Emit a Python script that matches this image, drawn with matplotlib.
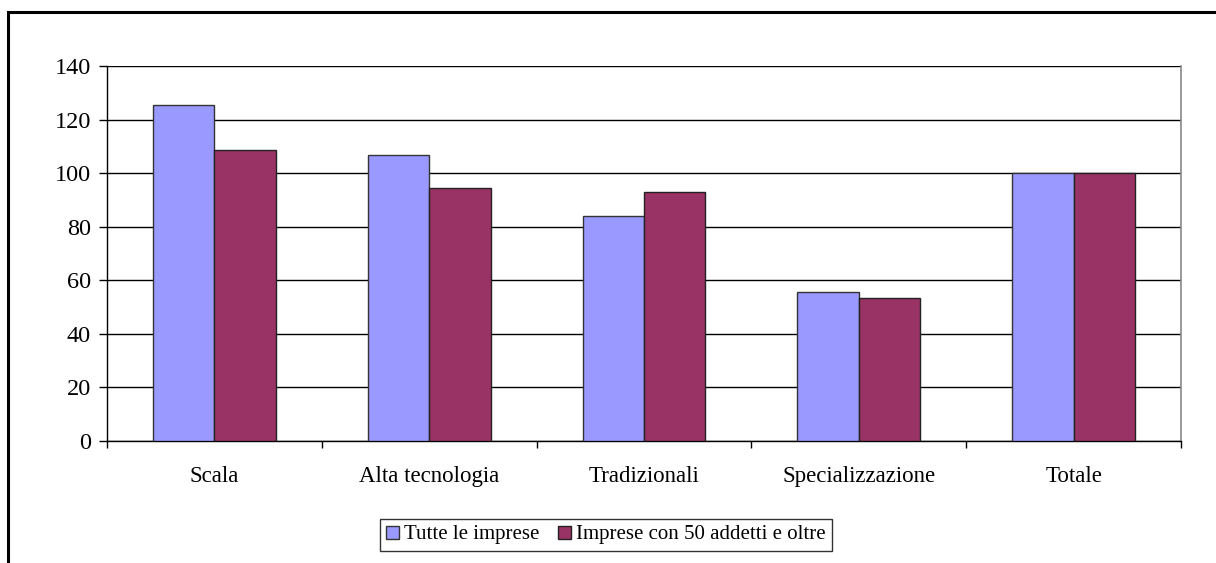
import matplotlib
matplotlib.use("Agg")
import matplotlib.pyplot as plt
import numpy as np
from matplotlib.patches import Rectangle, Patch

categories = ["Scala", "Alta tecnologia", "Tradizionali", "Specializzazione", "Totale"]
tutte = [125.5, 106.9, 84.0, 55.5, 100.0]
imprese50 = [108.6, 94.4, 93.1, 53.4, 100.0]
series_names = ["Tutte le imprese", "Imprese con 50 addetti e oltre"]
yticks = [0, 20, 40, 60, 80, 100, 120, 140]

plt.rcParams['font.family'] = ['Liberation Serif', 'DejaVu Serif']

fig = plt.figure(figsize=(12.16, 5.63), dpi=100)
fig.patch.set_facecolor('white')

# outer chart frame
fig.patches.append(Rectangle((8/1216, -0.1), 1.2, 1 - 12/563 + 0.1, transform=fig.transFigure,
                             fill=False, edgecolor='black', linewidth=2.2, zorder=0))

ax = fig.add_axes([107/1216, 1 - 441/563, (1181 - 107)/1216, (441 - 66)/563])

x = np.arange(len(categories))
w = 1 / 3.5
c1 = '#9999FF'
c2 = '#993366'
ax.bar(x - w/2, tutte, width=w, color=c1, edgecolor='#333333', linewidth=1, zorder=3)
ax.bar(x + w/2, imprese50, width=w, color=c2, edgecolor='#222222', linewidth=1, zorder=3)

ax.set_xlim(-0.5, len(categories) - 0.5)
ax.set_ylim(0, 140)
ax.set_yticks(yticks)
ax.set_yticklabels([str(v) for v in yticks])
ax.yaxis.grid(True, color='black', linewidth=1)
ax.set_axisbelow(True)

ax.set_xticks(x)
ax.set_xticklabels(categories)
ax.set_xticks(np.arange(len(categories) + 1) - 0.5, minor=True)
ax.tick_params(axis='x', which='major', length=0, pad=18, labelsize=16.5)
ax.tick_params(axis='x', which='minor', length=5, width=1, direction='out', color='black')
ax.tick_params(axis='y', length=5.5, width=1, direction='out', pad=6, labelsize=17.5)

for s in ['left', 'bottom']:
    ax.spines[s].set_color('black')
    ax.spines[s].set_linewidth(1)
ax.spines['top'].set_visible(False)
ax.spines['right'].set_color('#888888')
ax.spines['right'].set_linewidth(1.2)

handles = [Patch(facecolor=c1, edgecolor='#333333', linewidth=1),
           Patch(facecolor=c2, edgecolor='#222222', linewidth=1)]
leg = fig.legend(handles, series_names, loc='center', bbox_to_anchor=(606/1216, 1 - 535/563),
                 ncol=2, frameon=True, fontsize=15, handlelength=0.6, handleheight=0.6,
                 handletextpad=0.25, columnspacing=0.9, borderpad=0.3, fancybox=False,
                 borderaxespad=0)
leg.get_frame().set_edgecolor('black')
leg.get_frame().set_linewidth(1)

fig.savefig("out.png", dpi=100, facecolor='white')
